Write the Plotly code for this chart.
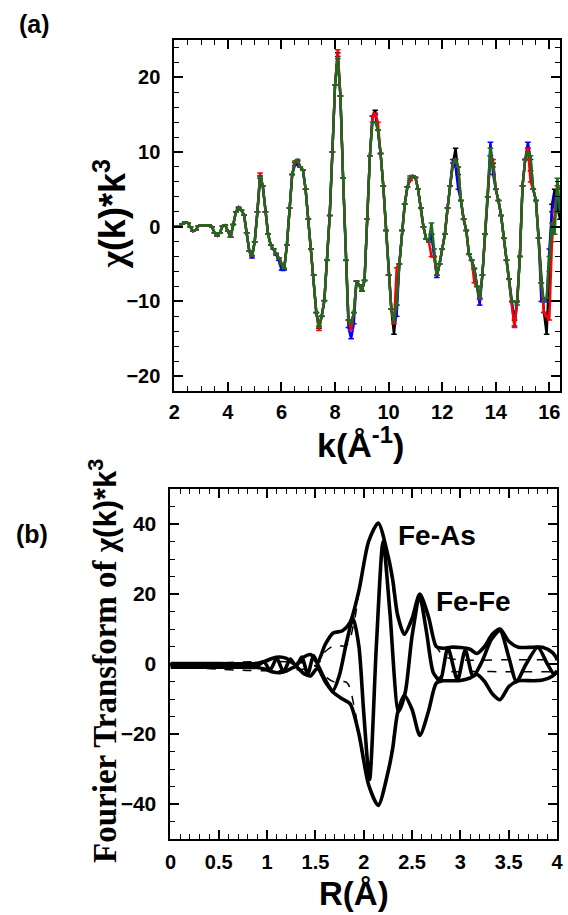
import numpy as np
import plotly.graph_objects as go

# ---------------- panel (a) data: chi(k)*k^3 ----------------
k_vals = np.round(np.arange(2.0, 16.401, 0.1), 1)

chi_black = [
    0.0, 0.0, 0.1, 0.4, 0.6, 0.5, 0.0, -0.6, -0.4, 0.1,
    0.2, 0.2, 0.2, 0.2, 0.0, -0.8, -1.2, -0.8, 0.1, 0.2,
    -0.6, -1.4, 0.3, 2.0, 2.6, 2.2, 1.6, -0.8, -3.3, -3.9,
    -2.0, 2.0, 6.8, 5.5, 2.0, -1.0, -2.5, -3.0, -3.6, -4.2,
    -5.0, -5.6, -2.5, 2.5, 7.0, 8.6, 8.8, 8.0, 7.6, 5.0,
    1.0, -3.0, -6.5, -11.5, -13.6, -12.0, -9.9, -4.5, 1.5, 10.0,
    19.0, 23.3, 17.5, 6.5, -4.5, -12.5, -13.2, -11.5, -7.3, -7.8,
    -8.6, -7.2, 1.0, 9.5, 14.8, 15.6, 12.9, 9.8, 5.5, -0.5,
    -6.5, -11.0, -14.4, -10.5, -5.0, -0.5, 3.0, 5.3, 6.2, 6.8,
    6.6, 5.0, 2.5, 0.0, -1.6, -2.0, -1.0, -4.0, -6.5, -5.0,
    -3.0, -1.0, 2.5, 5.5, 8.5, 10.5, 7.0, 3.5, 1.0, -0.5,
    -3.7, -4.5, -5.6, -8.0, -9.7, -6.5, -1.0, 4.0, 9.5, 8.5,
    5.0, 3.5, 1.5, -1.5, -4.5, -7.0, -10.0, -12.5, -10.0, -4.0,
    5.5, 9.0, 10.5, 7.5, 5.0, 3.5, -1.5, -7.5, -11.5, -14.4,
    -6.0, 3.0, 5.0, 2.5, 1.0,
]
chi_blue = [
    0.0, 0.0, 0.1, 0.4, 0.6, 0.5, 0.0, -0.6, -0.4, 0.1,
    0.2, 0.2, 0.2, 0.2, 0.0, -0.8, -1.2, -0.8, 0.1, 0.2,
    -0.6, -1.4, 0.3, 2.0, 2.4, 2.2, 1.6, -0.8, -3.3, -4.2,
    -2.0, 2.0, 6.5, 5.5, 2.0, -1.0, -2.5, -3.0, -3.8, -4.5,
    -5.8, -5.8, -2.5, 2.5, 7.0, 8.2, 8.4, 8.0, 7.6, 5.0,
    1.0, -3.0, -6.5, -11.5, -13.3, -12.0, -9.9, -4.5, 1.5, 10.0,
    19.0, 22.8, 17.5, 6.5, -4.5, -13.5, -15.0, -13.0, -7.3, -7.8,
    -8.6, -7.2, 1.0, 9.5, 14.8, 15.0, 12.9, 9.8, 5.5, -0.5,
    -6.5, -11.0, -12.5, -12.0, -5.0, -0.5, 3.0, 5.3, 6.5, 6.8,
    6.6, 5.0, 2.5, 0.0, -1.6, -2.0, -1.0, -4.0, -6.8, -5.0,
    -3.0, -1.0, 2.5, 5.5, 9.0, 8.0, 5.0, 3.5, 1.0, -0.5,
    -3.7, -4.5, -5.6, -8.0, -10.5, -6.5, -1.0, 4.0, 11.3, 7.0,
    5.0, 3.5, 1.5, -1.5, -4.5, -7.0, -10.0, -13.3, -10.0, -4.0,
    5.5, 9.0, 11.3, 9.0, 5.0, 3.5, -1.5, -10.0, -10.0, -10.0,
    -3.0, 2.0, 4.0, 3.5, 2.5,
]
chi_red = [
    0.0, 0.0, 0.1, 0.4, 0.6, 0.5, 0.0, -0.6, -0.4, 0.1,
    0.2, 0.2, 0.2, 0.2, 0.0, -0.8, -1.2, -0.8, 0.1, 0.2,
    -0.6, -1.4, 0.3, 2.0, 2.5, 2.2, 1.6, -0.8, -3.3, -3.9,
    -2.0, 2.0, 7.2, 5.5, 2.0, -1.0, -2.5, -3.0, -3.6, -4.2,
    -5.0, -5.6, -2.5, 2.5, 7.0, 8.6, 8.8, 8.0, 7.6, 5.0,
    1.0, -3.0, -6.5, -11.5, -13.9, -12.0, -9.9, -4.5, 1.5, 10.0,
    19.0, 23.7, 17.5, 6.5, -4.5, -12.5, -13.8, -11.5, -7.3, -7.8,
    -8.6, -7.2, 1.0, 9.5, 14.8, 15.2, 14.0, 9.8, 5.5, -0.5,
    -6.5, -11.0, -13.0, -5.5, -5.0, -0.5, 3.0, 5.3, 6.2, 6.8,
    6.6, 5.0, 2.5, 0.0, -1.6, -2.0, -4.0, -4.0, -6.5, -5.0,
    -3.0, -1.0, 2.5, 5.5, 8.5, 9.0, 8.0, 3.5, 1.0, -0.5,
    -3.7, -4.5, -7.5, -8.0, -9.7, -6.5, -1.0, 4.0, 9.5, 9.0,
    5.0, 3.5, 1.5, -1.5, -4.5, -7.0, -10.0, -13.5, -10.0, -4.0,
    5.5, 9.0, 10.5, 6.0, 5.0, 3.5, -1.5, -7.5, -11.5, -12.0,
    -12.5, -2.0, 2.0, 5.5, 5.0,
]
chi_green = [
    0.0, 0.0, 0.1, 0.4, 0.6, 0.5, 0.0, -0.6, -0.4, 0.1,
    0.2, 0.2, 0.2, 0.2, 0.0, -0.8, -1.2, -0.8, 0.1, 0.2,
    -0.6, -1.4, 0.3, 2.0, 2.6, 2.2, 1.6, -0.8, -3.3, -3.9,
    -2.0, 2.0, 6.8, 5.5, 2.0, -1.0, -2.5, -3.0, -3.6, -4.2,
    -5.0, -5.6, -2.5, 2.5, 7.0, 8.8, 9.0, 8.0, 7.6, 5.0,
    1.0, -3.0, -6.5, -11.5, -13.4, -12.0, -9.9, -4.5, 1.5, 10.0,
    19.0, 22.5, 17.5, 6.5, -4.5, -12.5, -13.0, -11.5, -7.3, -7.8,
    -8.6, -7.2, 1.0, 9.5, 14.0, 14.0, 12.9, 9.8, 5.5, -0.5,
    -6.5, -11.0, -12.7, -10.5, -5.0, -0.5, 3.0, 5.3, 6.8, 6.8,
    6.6, 5.0, 2.5, 0.0, -1.6, -2.0, 0.5, -3.0, -6.5, -5.0,
    -3.0, -1.0, 2.5, 5.5, 8.5, 9.0, 8.0, 3.5, 1.0, -0.5,
    -3.7, -4.5, -5.6, -8.0, -9.5, -6.5, -1.0, 4.0, 10.5, 8.0,
    5.0, 3.5, 1.5, -1.5, -4.5, -7.0, -10.0, -10.0, -10.5, -4.0,
    5.5, 9.0, 10.0, 9.5, 5.0, 3.5, -1.5, -7.5, -10.0, -9.5,
    -4.0, 0.5, -1.0, 6.5, 2.0,
]

# ---------------- panel (b) data: Fourier transform ----------------
mag_R = [0.0, 0.5, 0.9, 0.98, 1.05, 1.13, 1.2, 1.3, 1.38, 1.45, 1.52, 1.6, 1.68,
         1.78, 1.86, 1.95, 2.05, 2.15, 2.25, 2.3, 2.35, 2.42, 2.5, 2.58, 2.67,
         2.75, 2.82, 2.9, 3.0, 3.1, 3.17, 3.25, 3.33, 3.41, 3.5, 3.6, 3.75,
         3.85, 3.95, 4.0]
mag_pos = [0.1, 0.1, 0.2, 0.8, 1.6, 2.0, 1.6, -0.2, 2.0, 2.7, 0.5, 5.5, 8.8,
           9.5, 12.0, 21.0, 35.0, 40.3, 31.0, 24.0, 14.0, 8.5, 13.0, 20.0, 13.5,
           5.0, 4.5, 4.8, 4.7, 4.2, 3.0, 5.0, 8.5, 10.0, 6.5, 4.8, 4.8,
           4.8, 3.3, 1.5]
mag_neg = [-0.9, -0.9, -1.0, -1.5, -2.2, -2.5, -2.0, -0.8, -2.8, -3.4, -1.2, -5.0, -8.0,
           -10.0, -11.4, -20.0, -34.5, -40.4, -31.0, -24.0, -14.0, -9.0, -13.0, -20.4, -13.5,
           -5.5, -4.8, -4.8, -4.7, -4.0, -3.0, -5.0, -8.5, -10.2, -6.5, -4.8, -4.8,
           -4.6, -3.5, -2.0]

im_R = [0.0, 0.9, 0.97, 1.03, 1.1, 1.17, 1.24, 1.3, 1.36, 1.42, 1.48, 1.53, 1.6,
        1.68, 1.75, 1.82, 1.89, 1.95, 2.0, 2.06, 2.13, 2.2, 2.27, 2.36, 2.43,
        2.5, 2.58, 2.65, 2.72, 2.79, 2.87, 2.97, 3.05, 3.13, 3.22, 3.32, 3.41,
        3.5, 3.58, 3.68, 3.8, 3.9, 3.97, 4.0]
im_val = [-0.4, -0.4, 0.6, -1.8, 1.6, -2.2, 1.4, -0.6, 2.0, -3.0, 2.4, -0.5, -4.5,
          -7.6, -3.0, 6.0, 13.0, 5.0, -14.0, -33.0, 5.0, 35.0, 15.0, -13.5, -8.0,
          8.0, 19.0, 9.0, -2.5, -4.7, 4.6, -4.6, 4.0, -3.5, 0.5, 7.0, 9.6,
          2.0, -5.0, 0.0, 4.8, 0.0, -3.0, -2.0]

fit_R = [0.0, 1.5, 1.6, 1.7, 1.82, 1.9, 1.95, 2.05, 2.15, 2.25, 2.35, 2.42, 2.5,
         2.58, 2.67, 2.75, 2.85, 3.0, 3.5, 4.0]
fit_pos = [-0.5, -0.5, 3.5, 5.3, 5.3, 12.0, 20.5, 34.5, 40.0, 31.0, 14.0, 9.0, 13.0,
           20.0, 13.5, 5.0, 2.0, 1.2, 1.2, 1.2]
fit_neg = [-0.5, -0.5, -3.5, -5.2, -5.2, -12.0, -20.5, -34.5, -40.0, -31.0, -14.0, -9.0, -13.0,
           -20.0, -13.5, -5.0, -2.5, -2.2, -2.2, -2.2]

# ---------------- layout geometry ----------------
W, H = 568, 915


def xp(px):
    return px / W


def yp(py):
    return 1 - py / H


BOLD = dict(family="Liberation Sans, Arial", weight="bold", color="black")

fig = go.Figure()

series = [(chi_black, "black"), (chi_blue, "#0000ff"), (chi_red, "#ff0000"), (chi_green, "#1a6e1a")]
for vals, col in series:
    fig.add_trace(go.Scatter(x=k_vals, y=vals, mode="lines+markers",
                             line=dict(color=col, width=2.4),
                             marker=dict(symbol="line-ew", size=4, line=dict(color=col, width=1.5)),
                             xaxis="x", yaxis="y", showlegend=False))

# dashed fits (drawn under the data)
for yy in (fit_pos, fit_neg):
    fig.add_trace(go.Scatter(x=fit_R, y=yy, mode="lines", line=dict(color="black", width=1.5, dash="dash"),
                             line_shape="spline", xaxis="x2", yaxis="y2", showlegend=False))
for rr, yy in ((mag_R, mag_pos), (mag_R, mag_neg), (im_R, im_val)):
    fig.add_trace(go.Scatter(x=rr, y=yy, mode="lines", line=dict(color="black", width=3.6, shape="spline", smoothing=0.7),
                             xaxis="x2", yaxis="y2", showlegend=False))

axis_common = dict(showline=True, linewidth=2, linecolor="black", mirror="allticks",
                   ticks="inside", ticklen=9, tickwidth=1.6, tickcolor="black",
                   showgrid=False, zeroline=False, ticklabeloverflow="allow")

fig.update_layout(
    width=W, height=H,
    margin=dict(l=0, r=0, t=0, b=0),
    paper_bgcolor="white", plot_bgcolor="white",
    xaxis=dict(domain=[xp(172), xp(566)], range=[2, 16.4], anchor="y", tick0=2, dtick=2,
               minor=dict(dtick=0.5, ticks="inside", ticklen=5, tickwidth=1.4, tickcolor="black"),
               tickfont=dict(size=20, **BOLD), ticklabelstandoff=2, **axis_common),
    yaxis=dict(domain=[yp(391), yp(40)], range=[-22, 25], anchor="x", tick0=0, dtick=10,
               minor=dict(dtick=2, ticks="inside", ticklen=5, tickwidth=1.4, tickcolor="black"),
               tickfont=dict(size=20, **BOLD), ticklabelstandoff=8, **axis_common),
    xaxis2=dict(domain=[xp(168), xp(563)], range=[0, 4.0005], anchor="y2", tick0=0, dtick=0.5,
                minor=dict(dtick=0.1, ticks="inside", ticklen=5, tickwidth=1.4, tickcolor="black"),
                tickfont=dict(size=20, **BOLD), ticklabelstandoff=4, **axis_common),
    yaxis2=dict(domain=[yp(839), yp(489)], range=[-50, 50], anchor="x2", tick0=0, dtick=20,
                minor=dict(dtick=5, ticks="inside", ticklen=5, tickwidth=1.4, tickcolor="black"),
                tickfont=dict(size=21, **BOLD), ticklabelstandoff=8, **axis_common),
)

annots = [
    dict(text="(a)", x=xp(29), y=yp(24), font=dict(size=25, **BOLD)),
    dict(text="(b)", x=xp(27), y=yp(534), font=dict(size=25, **BOLD)),
    dict(text="k(Å<sup>-1</sup>)", x=xp(362), y=yp(442), font=dict(size=34, **BOLD)),
    dict(text="R(Å)", x=xp(356), y=yp(893), font=dict(size=33, **BOLD)),
    dict(text="<span style=\"font-family:'Liberation Serif'\">χ</span>(k)*k<sup>3</sup>",
         x=xp(106), y=yp(214), textangle=-90, font=dict(size=36, **BOLD)),
    dict(text="<span style=\"font-family:'Liberation Serif'; font-size:33px\">Fourier Transform of </span>"
              "<span style=\"font-family:'Liberation Serif'\">χ</span>(k)*k<sup>3</sup>",
         x=xp(99), y=yp(661), textangle=-90, font=dict(size=31, **BOLD)),
    dict(text="Fe-As", x=xp(440), y=yp(535), font=dict(size=28, **BOLD)),
    dict(text="Fe-Fe", x=xp(478), y=yp(601), font=dict(size=28, **BOLD)),
]
for a in annots:
    fig.add_annotation(xref="paper", yref="paper", showarrow=False,
                       xanchor="center", yanchor="middle", **a)

fig.write_html("out.html", config={"displayModeBar": False},
               post_script="document.body.style.margin='0';document.body.style.overflow='hidden';")
